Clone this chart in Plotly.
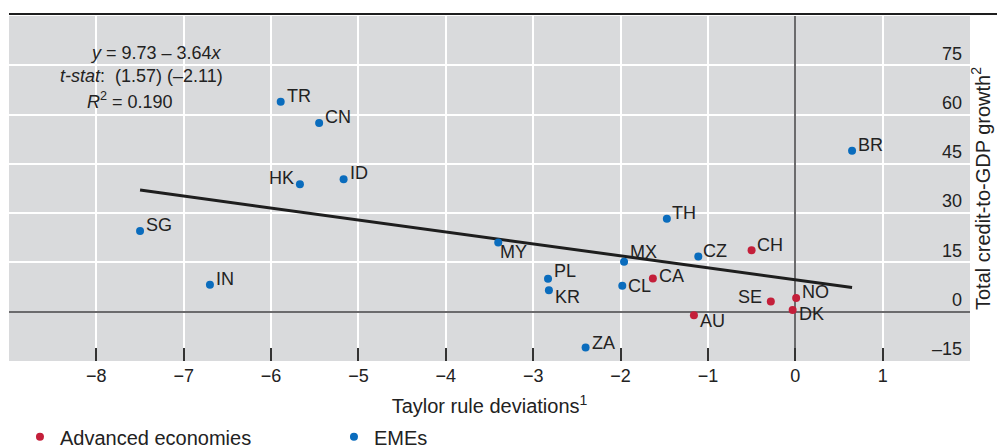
import plotly.graph_objects as go

# ---------------- data ----------------
adv_codes = ["CH", "CA", "SE", "NO", "DK", "AU"]
adv_x = [-0.50, -1.63, -0.28, 0.01, -0.03, -1.16]
adv_y = [18.7, 10.1, 3.1, 4.2, 0.5, -1.1]

eme_codes = ["TR", "CN", "HK", "ID", "SG", "IN", "BR", "TH", "MY", "MX",
             "CZ", "PL", "KR", "CL", "ZA"]
eme_x = [-5.89, -5.45, -5.67, -5.17, -7.50, -6.70, 0.65, -1.47, -3.40, -1.96,
         -1.11, -2.83, -2.82, -1.98, -2.40]
eme_y = [63.9, 57.4, 38.8, 40.3, 24.6, 8.2, 49.0, 28.3, 21.1, 15.2,
         16.8, 10.0, 6.5, 7.9, -10.9]

reg_intercept = 9.73
reg_slope = -3.64

x_ticks = [-8, -7, -6, -5, -4, -3, -2, -1, 0, 1]
x_tick_labels = ["−8", "−7", "−6", "−5", "−4", "−3", "−2", "−1", "0", "1"]
y_ticks = [-15, 0, 15, 30, 45, 60, 75]
y_tick_labels = ["–15", "0", "15", "30", "45", "60", "75"]

# ---------------- style ----------------
RED = "#c41f3a"
BLUE = "#0a6cbd"
BG = "#d9dadc"
TXT = "#222222"
FONT = "Liberation Sans, Arial, sans-serif"
FS = 18

# label offsets in pixels: (xanchor, xshift, yshift)
LABEL_STYLE = {
    "TR": ("left", 4, 6), "CN": ("left", 4, 6), "HK": ("right", -4, 6),
    "ID": ("left", 4, 6), "SG": ("left", 4, 6), "IN": ("left", 4, 6),
    "BR": ("left", 4, 6), "TH": ("left", 3, 6), "MY": ("left", 0, -10),
    "MX": ("left", 4, 10), "CZ": ("left", 3, 6), "PL": ("left", 4, 8),
    "KR": ("left", 4, -7), "CL": ("left", 4, 0), "ZA": ("left", 4, 5),
    "CH": ("left", 3, 5), "CA": ("left", 4, 3), "SE": ("right", -7, 5),
    "NO": ("left", 4, 6), "DK": ("left", 4, -4), "AU": ("left", 4, -6),
}

fig = go.Figure()

# regression line
all_x = adv_x + eme_x
x_line = [min(all_x), max(all_x)]
y_line = [reg_intercept + reg_slope * v for v in x_line]
fig.add_trace(go.Scatter(x=x_line, y=y_line, mode="lines",
                         line=dict(color="#1e1e1e", width=3),
                         showlegend=False, hoverinfo="skip"))

fig.add_trace(go.Scatter(x=adv_x, y=adv_y, mode="markers", name="Advanced economies",
                         marker=dict(color=RED, size=8), text=adv_codes))
fig.add_trace(go.Scatter(x=eme_x, y=eme_y, mode="markers", name="EMEs",
                         marker=dict(color=BLUE, size=8), text=eme_codes))

annotations = []
for codes, xs, ys in ((adv_codes, adv_x, adv_y), (eme_codes, eme_x, eme_y)):
    for c, xv, yv in zip(codes, xs, ys):
        anc, dx, dy = LABEL_STYLE[c]
        annotations.append(dict(x=xv, y=yv, xref="x", yref="y", text=c,
                                showarrow=False, xanchor=anc, yanchor="middle",
                                xshift=dx, yshift=dy,
                                font=dict(family=FONT, size=FS, color=TXT)))

# equation text (pixel positions converted to paper coordinates)
L, R, T, B = 9, 28, 16, 87
PW, PH = 998 - L - R, 448 - T - B


def px(xp):
    return (xp - L) / PW


def py(yp):
    return (448 - B - yp) / PH


eq_lines = [("<i>y</i> = 9.73 – 3.64<i>x</i>", 156, 53),
            ("<i>t-stat</i>:  (1.57) (–2.11)", 141, 76),
            ("<i>R</i><sup>2</sup> = 0.190", 130, 100)]
for txt, cx, cy in eq_lines:
    annotations.append(dict(x=px(cx), y=py(cy), xref="paper", yref="paper",
                            text=txt, showarrow=False, xanchor="center",
                            yanchor="middle",
                            font=dict(family=FONT, size=FS, color=TXT)))

fig.update_layout(
    width=998, height=448,
    margin=dict(l=L, r=R, t=T, b=B, autoexpand=False),
    paper_bgcolor="white", plot_bgcolor=BG,
    font=dict(family=FONT, size=FS, color=TXT),
    annotations=annotations,
    showlegend=True,
    legend=dict(orientation="h", xref="container", yref="container",
                x=0.02, y=0.025, xanchor="left", yanchor="middle",
                entrywidth=269, entrywidthmode="pixels",
                font=dict(family=FONT, size=20, color=TXT),
                bgcolor="rgba(0,0,0,0)", itemclick=False),
    shapes=[dict(type="line", xref="paper", yref="paper",
                 x0=0, x1=(997 - L) / PW, y0=1 + 2 / PH, y1=1 + 2 / PH,
                 line=dict(color="#1e1e1e", width=2))],
)

fig.update_xaxes(range=[-9, 2], tickvals=x_ticks, ticktext=x_tick_labels,
                 ticks="inside", ticklen=13, tickwidth=1.5, tickcolor="#333333",
                 showgrid=True, gridcolor="white", gridwidth=1.5,
                 zeroline=True, zerolinecolor="#6b6b6d", zerolinewidth=2,
                 showline=False, fixedrange=True, ticklabelstandoff=2,
                 title=dict(text="Taylor rule deviations<sup>1</sup>",
                            font=dict(family=FONT, size=20, color=TXT),
                            standoff=16),
                 tickfont=dict(family=FONT, size=FS, color=TXT))

fig.update_yaxes(range=[-15, 90], side="right", tickvals=y_ticks,
                 ticktext=y_tick_labels, ticks="",
                 ticklabelposition="inside", ticklabelshift=-12,
                 ticklabelstandoff=5, ticklabeloverflow="allow",
                 showgrid=True, gridcolor="white", gridwidth=1.5,
                 zeroline=True, zerolinecolor="#6b6b6d", zerolinewidth=2,
                 showline=False, fixedrange=True,
                 title=dict(text="Total credit-to-GDP growth<sup>2</sup>",
                            font=dict(family=FONT, size=20, color=TXT),
                            standoff=14),
                 tickfont=dict(family=FONT, size=FS, color=TXT))

fig.write_html("out.html")
